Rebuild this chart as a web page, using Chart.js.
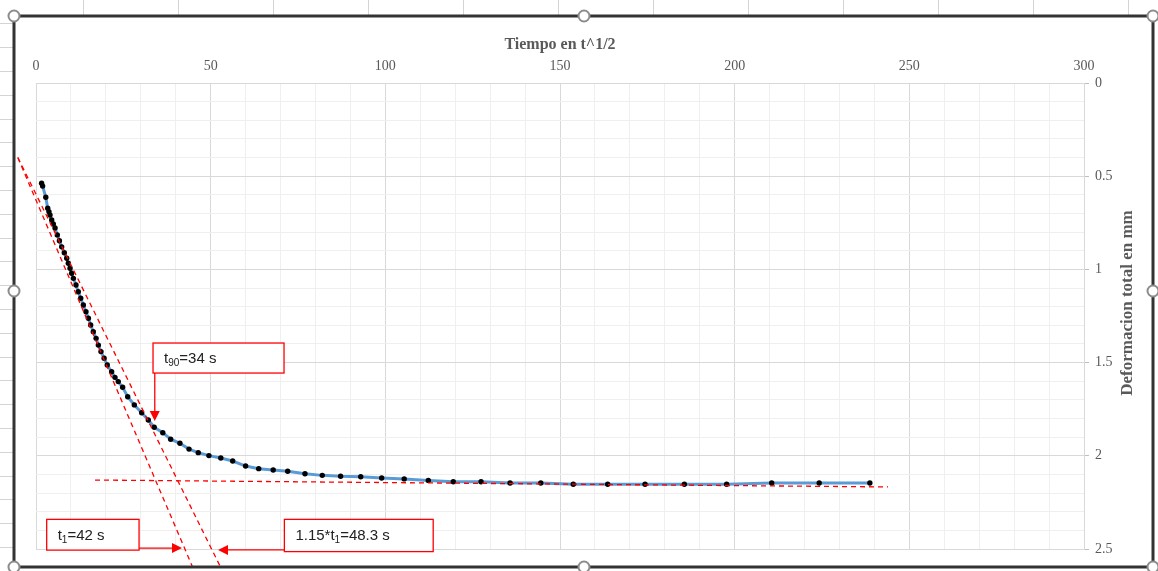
<!DOCTYPE html>
<html>
<head>
<meta charset="utf-8">
<script src="https://cdn.jsdelivr.net/npm/chart.js@4/dist/chart.umd.min.js"></script>
<style>
html, body { margin: 0; padding: 0; background: #fff; }
#wrap { width: 1158px; height: 571px; }
</style>
</head>
<body>
<div id="wrap"><canvas id="myChart" width="1158" height="571"></canvas></div>
<script>
// raiz del tiempo (t^1/2) y deformacion total (mm)
var tiempo = [1.6, 1.9, 2.8, 3.35, 3.7, 4.0, 4.5, 4.95, 5.45, 6.1, 6.7, 7.35, 8.1, 8.8, 9.25, 9.75,
    10.2, 10.7, 11.45, 12.1, 12.8, 13.55, 14.3, 15.0, 15.65, 16.4, 17.2, 17.85, 18.6, 19.5,
    20.4, 21.65, 22.6, 23.55, 24.8, 26.25, 28.15, 30.25, 32.15, 33.85, 36.3, 38.55, 41.2,
    43.8, 46.45, 49.5, 52.9, 56.3, 60.0, 63.75, 67.9, 72.05, 77.0, 81.95, 87.2, 92.95,
    98.95, 105.4, 112.3, 119.45, 127.4, 135.7, 144.5, 153.8, 163.65, 174.35, 185.6,
    197.7, 210.6, 224.2, 238.7];
var deformacion = [0.538, 0.553, 0.613, 0.672, 0.690, 0.708, 0.735, 0.756, 0.778, 0.815, 0.846,
    0.879, 0.911, 0.940, 0.967, 0.994, 1.021, 1.048, 1.084, 1.120, 1.155, 1.191, 1.227,
    1.262, 1.298, 1.334, 1.370, 1.406, 1.441, 1.477, 1.513, 1.549, 1.579, 1.602, 1.632,
    1.683, 1.727, 1.769, 1.808, 1.847, 1.876, 1.911, 1.933, 1.964, 1.983, 1.999, 2.012,
    2.028, 2.055, 2.069, 2.076, 2.083, 2.096, 2.105, 2.110, 2.112, 2.119, 2.124, 2.132,
    2.139, 2.139, 2.146, 2.146, 2.153, 2.153, 2.153, 2.153, 2.153, 2.146, 2.146, 2.146];
var ticksX = [0, 50, 100, 150, 200, 250, 300];
var ticksY = [0, 0.5, 1, 1.5, 2, 2.5];

// lineas de construccion (t^1/2, mm)
var tangente1 = [[-5.2, 0.40], [44.9, 2.60]];
var tangente2 = [[-5.2, 0.40], [52.9, 2.60]];
var asintota = [[16.9, 2.130], [243.9, 2.167]];

function esMayor(v, lista) {
    for (var i = 0; i < lista.length; i++) {
        if (Math.abs(v - lista[i]) < 1e-6) return true;
    }
    return false;
}

var puntos = tiempo.map(function (t, i) { return { x: t, y: deformacion[i] }; });

// notas con flecha: caja [x0,y0,x1,y1], flecha [desde, hasta] en unidades del grafico
var notas = [
    { partes: [['t', 0], ['90', 1], ['=34 s', 0]], caja: [33.5, 1.395, 71.0, 1.556], flecha: [[34.0, 1.556], [34.0, 1.813]] },
    { partes: [['t', 0], ['1', 1], ['=42 s', 0]], caja: [3.06, 2.341, 29.5, 2.506], flecha: [[29.5, 2.495], [41.8, 2.495]] },
    { partes: [['1.15*t', 0], ['1', 1], ['=48.3 s', 0]], caja: [71.1, 2.341, 113.7, 2.514], flecha: [[71.1, 2.505], [52.1, 2.505]] }
];

var fondo = {
    id: 'fondo',
    beforeDraw: function (chart) {
        var c = chart.ctx;
        c.save();
        c.fillStyle = '#fff';
        c.fillRect(0, 0, chart.width, chart.height);
        // celdas de la hoja detras del grafico
        c.strokeStyle = '#d4d4d4';
        c.lineWidth = 1;
        for (var x = 83; x < chart.width; x += 95) {
            c.beginPath(); c.moveTo(x + 0.5, 0); c.lineTo(x + 0.5, 16); c.stroke();
        }
        for (var y = 23.3; y < chart.height; y += 23.8) {
            var yy = Math.round(y) + 0.5;
            c.beginPath(); c.moveTo(0, yy); c.lineTo(14, yy); c.stroke();
        }
        c.restore();
    }
};

function flechaLinea(c, x0, y0, x1, y1) {
    var ang = Math.atan2(y1 - y0, x1 - x0);
    var L = 10, W = 5;
    var bx = x1 - L * Math.cos(ang), by = y1 - L * Math.sin(ang);
    c.beginPath(); c.moveTo(x0, y0); c.lineTo(bx, by); c.stroke();
    c.beginPath();
    c.moveTo(x1, y1);
    c.lineTo(bx + W * Math.sin(ang), by - W * Math.cos(ang));
    c.lineTo(bx - W * Math.sin(ang), by + W * Math.cos(ang));
    c.closePath(); c.fill();
}

var extras = {
    id: 'extras',
    afterDraw: function (chart) {
        var c = chart.ctx;
        var sx = chart.scales.x, sy = chart.scales.y;
        var px = function (v) { return sx.getPixelForValue(v); };
        var py = function (v) { return sy.getPixelForValue(v); };
        c.save();
        // lineas punteadas rojas
        c.strokeStyle = '#ff0000';
        c.lineWidth = 1.3;
        c.setLineDash([5, 4]);
        [tangente1, tangente2, asintota].forEach(function (l) {
            c.beginPath();
            c.moveTo(px(l[0][0]), py(l[0][1]));
            c.lineTo(px(l[1][0]), py(l[1][1]));
            c.stroke();
        });
        c.setLineDash([]);

        // cajas con texto
        notas.forEach(function (n) {
            var x0 = px(n.caja[0]), y0 = py(n.caja[1]), x1 = px(n.caja[2]), y1 = py(n.caja[3]);
            c.fillStyle = '#fff';
            c.fillRect(x0, y0, x1 - x0, y1 - y0);
            c.strokeStyle = '#ff0000';
            c.lineWidth = 1.3;
            c.strokeRect(x0, y0, x1 - x0, y1 - y0);
            c.fillStyle = '#ff0000';
            flechaLinea(c, px(n.flecha[0][0]), py(n.flecha[0][1]), px(n.flecha[1][0]), py(n.flecha[1][1]));
            var tx = x0 + 11, base = (y0 + y1) / 2 + 5;
            c.fillStyle = '#222';
            c.textBaseline = 'alphabetic';
            c.textAlign = 'left';
            n.partes.forEach(function (p) {
                c.font = p[1] ? '10px "Liberation Sans"' : '15px "Liberation Sans"';
                c.fillText(p[0], tx, p[1] ? base + 3 : base);
                tx += c.measureText(p[0]).width;
            });
        });

        // titulo del eje vertical
        c.fillStyle = '#595959';
        c.font = 'bold 17px "Liberation Serif"';
        c.textAlign = 'center';
        c.textBaseline = 'middle';
        c.translate(1128, 303);
        c.rotate(-Math.PI / 2);
        c.fillText('Deformacion total en mm', 0, 0);
        c.setTransform(1, 0, 0, 1, 0, 0);

        // marco del objeto grafico
        c.strokeStyle = '#333';
        c.lineWidth = 3;
        c.strokeRect(14, 16, 1139, 551);
        var asas = [[14, 16], [584, 16], [1153, 16], [14, 291], [1153, 291], [14, 567], [584, 567], [1153, 567]];
        c.lineWidth = 2;
        c.strokeStyle = '#8c8c8c';
        c.fillStyle = '#fff';
        asas.forEach(function (a) {
            c.beginPath(); c.arc(a[0], a[1], 5.5, 0, Math.PI * 2); c.fill(); c.stroke();
        });
        c.restore();
    }
};

var ctx = document.getElementById('myChart').getContext('2d');
var chart = new Chart(ctx, {
    type: 'scatter',
    data: {
        datasets: [{
            label: 'Deformacion',
            data: puntos,
            showLine: true,
            borderColor: '#5b9bd5',
            borderWidth: 3,
            pointRadius: 2.7,
            pointBorderWidth: 0,
            pointBackgroundColor: '#000',
            pointBorderColor: '#000'
        }]
    },
    options: {
        responsive: false,
        animation: false,
        layout: { padding: { left: 36, right: 0, top: 0, bottom: 22 } },
        plugins: {
            legend: { display: false },
            tooltip: { enabled: false }
        },
        scales: {
            x: {
                type: 'linear',
                position: 'top',
                min: 0,
                max: 300,
                afterFit: function (s) { s.height = 83; },
                border: { color: '#d9d9d9' },
                grid: {
                    drawTicks: false,
                    color: function (c) { return esMayor(c.tick.value, ticksX) ? '#d9d9d9' : '#efefef'; }
                },
                ticks: {
                    stepSize: 10,
                    padding: 8,
                    maxRotation: 0,
                    autoSkip: false,
                    color: '#595959',
                    font: { family: '"Liberation Serif"', size: 14 },
                    callback: function (v) { return esMayor(v, ticksX) ? String(v) : ''; }
                },
                title: {
                    display: true,
                    text: 'Tiempo en t^1/2',
                    color: '#595959',
                    font: { family: '"Liberation Serif"', size: 16, weight: 'bold' },
                    padding: { top: 35, bottom: 0 }
                }
            },
            y: {
                type: 'linear',
                position: 'right',
                reverse: true,
                min: 0,
                max: 2.5,
                afterFit: function (s) { s.width = 74; },
                border: { color: '#d9d9d9' },
                grid: {
                    tickLength: 5,
                    color: function (c) { return esMayor(c.tick.value, ticksY) ? '#d9d9d9' : '#efefef'; },
                    tickColor: function (c) { return esMayor(c.tick.value, ticksY) ? '#bfbfbf' : 'rgba(0,0,0,0)'; }
                },
                ticks: {
                    stepSize: 0.1,
                    padding: 6,
                    autoSkip: false,
                    color: '#595959',
                    font: { family: '"Liberation Serif"', size: 14 },
                    callback: function (v) {
                        return esMayor(v, ticksY) ? String(Math.round(v * 10) / 10) : '';
                    }
                }
            }
        }
    },
    plugins: [fondo, extras]
});
</script>
</body>
</html>
